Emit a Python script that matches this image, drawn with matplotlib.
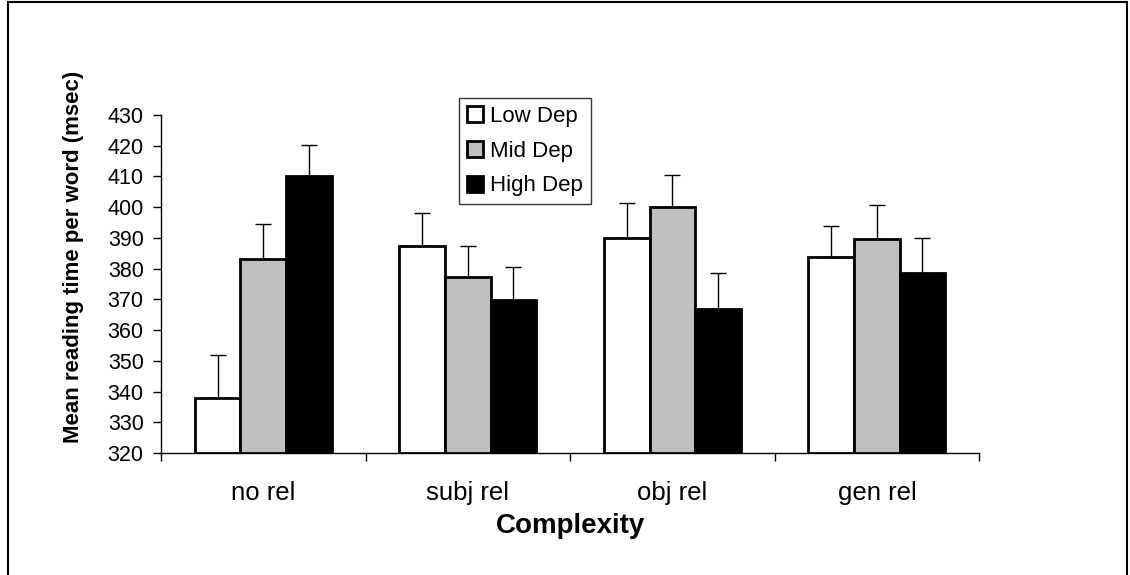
import matplotlib.pyplot as plt
import numpy as np
from matplotlib.patches import Rectangle

plt.rcParams['font.family'] = ['Liberation Sans', 'DejaVu Sans']

categories = ['no rel', 'subj rel', 'obj rel', 'gen rel']
series = ['Low Dep', 'Mid Dep', 'High Dep']
low_dep = [338, 387.5, 390, 383.7]
mid_dep = [383, 377.3, 400, 389.8]
high_dep = [410.3, 369.8, 367, 378.7]
low_err = [14, 10.5, 11.4, 10.2]
mid_err = [11.6, 10.2, 10.5, 10.8]
high_err = [10, 10.7, 11.5, 11.2]
colors = ['white', '#c0c0c0', 'black']

fig = plt.figure(figsize=(11.3, 5.75), dpi=100)
ax = fig.add_axes([0.1425, 0.2122, 0.724, 0.5878])

x = np.arange(len(categories))
w = 0.223
for i, (vals, errs) in enumerate([(low_dep, low_err), (mid_dep, mid_err), (high_dep, high_err)]):
    pos = x + (i - 1) * w
    ax.bar(pos, np.array(vals) - 320, width=w, bottom=320, color=colors[i],
           edgecolor='black', linewidth=2, label=series[i], zorder=2)
    ax.errorbar(pos, vals, yerr=[np.zeros(len(errs)), errs], fmt='none',
                ecolor='black', elinewidth=1, capsize=6, capthick=1, zorder=1)

ax.set_xlim(-0.5, 3.5)
ax.set_ylim(320, 430)
ax.set_yticks(range(320, 431, 10))
ax.set_xticks(x)
ax.set_xticklabels(categories, fontsize=18.5)
ax.set_xticks(np.arange(-0.5, 4, 1), minor=True)
ax.tick_params(axis='x', which='major', length=0, pad=20)
ax.tick_params(axis='x', which='minor', length=6, width=1, direction='out')
ax.tick_params(axis='y', labelsize=15.5, length=5.5, width=1, direction='out', pad=7)
for s in ['top', 'right']:
    ax.spines[s].set_visible(False)
ax.spines['left'].set_linewidth(1)
ax.spines['bottom'].set_linewidth(1)

ax.set_ylabel('Mean reading time per word (msec)', fontsize=16, fontweight='bold')
ax.yaxis.set_label_coords(-0.094, 0.58)
ax.set_xlabel('Complexity', fontsize=20, fontweight='bold', labelpad=6)

leg = ax.legend(loc='upper left', bbox_to_anchor=(0.364, 1.05), fontsize=16,
                frameon=True, fancybox=False, edgecolor='black', handlelength=0.75,
                handleheight=0.75, handletextpad=0.3, borderpad=0.35, labelspacing=0.62,
                borderaxespad=0)
leg.get_frame().set_linewidth(1)

fig.patches.append(Rectangle((8 / 1130, -0.1), 1119 / 1130, 1.0966, transform=fig.transFigure,
                             fill=False, edgecolor='black', linewidth=1.5))

fig.savefig('out.png', dpi=100)
